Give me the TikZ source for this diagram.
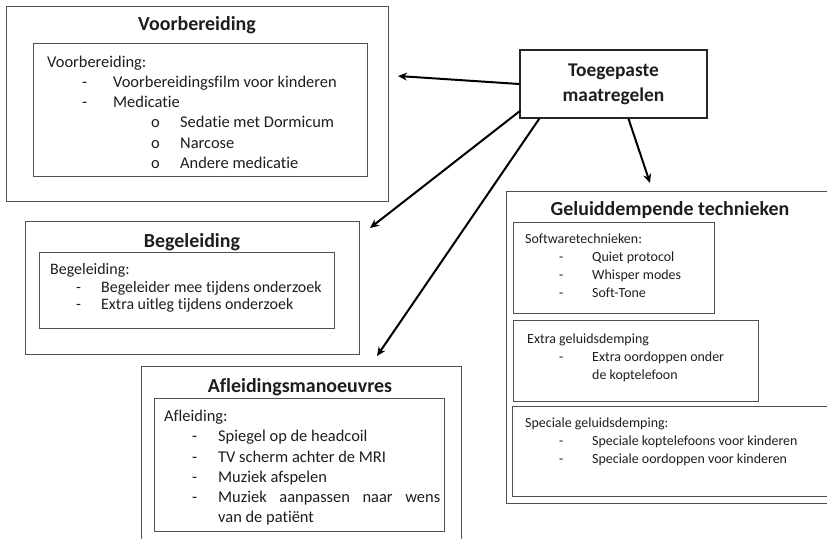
\documentclass[tikz,border=0pt]{standalone}
\usepackage{fontspec}
\setmainfont{Carlito}[Ligatures=NoCommon]
\usetikzlibrary{arrows.meta,positioning,calc}

\definecolor{boxgray}{HTML}{505050}
\definecolor{inkgray}{HTML}{1E1E1E}
\newcommand{\litem}[3]{\hspace*{#1}\makebox[#2][l]{-}#3}
\newcommand{\oitem}[3]{\hspace*{#1}\makebox[#2][l]{o}#3}

\begin{document}
\begin{tikzpicture}[
  x=1bp, y=-1bp,
  outerbox/.style={draw=boxgray, line width=1.4bp, fill=white, inner sep=0pt, anchor=north west},
  innerbox/.style={draw=boxgray, line width=1.2bp, fill=white, inner sep=0pt, anchor=north west},
  boxtitle/.style={font=\fontsize{20}{24}\selectfont\bfseries, text=inkgray, inner sep=0pt},
  boxtext/.style={font=\fontsize{16.5}{20.3}\selectfont, text=inkgray, align=left, inner sep=0pt, anchor=north west},
  smalltext/.style={font=\fontsize{14}{17.8}\selectfont, text=inkgray, align=left, inner sep=0pt, anchor=north west},
  arr/.style={line width=2bp, -{Stealth[length=9bp,width=8bp]}}
]
\useasboundingbox (0,0) rectangle (827,539);
\clip (0,0) rectangle (827,539);

% Voorbereiding
\node[outerbox, minimum width=382bp, minimum height=195bp] (vbOuter) at (6,6) {};
\node[boxtitle] (vbTitle) at (197,25) {Voorbereiding};
\node[innerbox, minimum width=334bp, minimum height=133bp] (vbInner) at (33,43) {};
\node[boxtext, below right=12.5bp and 14bp of vbInner.north west] (vbText) {Voorbereiding:\\
  \litem{35bp}{31bp}{Voorbereidingsfilm voor kinderen}\\
  \litem{35bp}{31bp}{Medicatie}\\
  \oitem{104bp}{29bp}{Sedatie met Dormicum}\\
  \oitem{104bp}{29bp}{Narcose}\\
  \oitem{104bp}{29bp}{Andere medicatie}};

% Begeleiding
\node[outerbox, minimum width=334bp, minimum height=133bp] (bgOuter) at (25,221) {};
\node[boxtitle] (bgTitle) at (192,242) {Begeleiding};
\node[innerbox, minimum width=295bp, minimum height=76bp] (bgInner) at (39,252) {};
\node[boxtext, font=\fontsize{16}{17.6}\selectfont, below right=11.5bp and 11bp of bgInner.north west] (bgText) {Begeleiding:\\
  \litem{26bp}{25bp}{Begeleider mee tijdens onderzoek}\\
  \litem{26bp}{25bp}{Extra uitleg tijdens onderzoek}};

% Afleidingsmanoeuvres
\node[outerbox, minimum width=320bp, minimum height=190bp] (afOuter) at (141,366) {};
\node[boxtitle] (afTitle) at (300,387) {Afleidingsmanoeuvres};
\node[innerbox, minimum width=290bp, minimum height=133bp] (afInner) at (154,398) {};
\node[boxtext, below right=12bp and 10bp of afInner.north west] (afText) {Afleiding:\\
  \litem{28bp}{26bp}{Spiegel op de headcoil}\\
  \litem{28bp}{26bp}{TV scherm achter de MRI}\\
  \litem{28bp}{26bp}{Muziek afspelen}\\
  \litem{28bp}{26bp}{\makebox[222bp][s]{Muziek aanpassen naar wens}}\\
  \hspace*{54bp}van de patiënt};

% Geluiddempende technieken
\node[outerbox, minimum width=330bp, minimum height=312bp] (gdOuter) at (506,191) {};
\node[boxtitle] (gdTitle) at (670,210) {Geluiddempende technieken};
\node[innerbox, minimum width=201bp, minimum height=91bp] (swInner) at (513,222) {};
\node[smalltext, below right=12bp and 12bp of swInner.north west] (swText) {Softwaretechnieken:\\
  \litem{34bp}{33bp}{Quiet protocol}\\
  \litem{34bp}{33bp}{Whisper modes}\\
  \litem{34bp}{33bp}{Soft-Tone}};
\node[innerbox, minimum width=245bp, minimum height=81bp] (exInner) at (513,320) {};
\node[smalltext, below right=14bp and 14bp of exInner.north west] (exText) {Extra geluidsdemping\\
  \litem{32bp}{33bp}{Extra oordoppen onder}\\
  \hspace*{65bp}de koptelefoon};
\node[innerbox, minimum width=330bp, minimum height=90bp] (spInner) at (512,406) {};
\node[smalltext, below right=12bp and 13bp of spInner.north west] (spText) {Speciale geluidsdemping:\\
  \litem{34bp}{33bp}{Speciale koptelefoons voor kinderen}\\
  \litem{34bp}{33bp}{Speciale oordoppen voor kinderen}};

% Toegepaste maatregelen
\node[draw=black!85, line width=1.5bp, fill=white, minimum width=187bp, minimum height=68bp,
  align=center, font=\fontsize{19.5}{25}\selectfont\bfseries, text=inkgray] (toeg) at (613.5,84) {Toegepaste\\maatregelen};

% arrows
\coordinate (vbTip) at (398,76);
\coordinate (bgTip) at (370,228);
\coordinate (afTip) at (377,356);
\coordinate (gdTip) at (650,183);
\draw[arr] (toeg.west) -- (vbTip);
\draw[arr] ($(toeg.south west)+(1,-8)$) -- (bgTip);
\draw[arr] ($(toeg.south west)+(20,0)$) -- (afTip);
\draw[arr] ($(toeg.south)+(15,0)$) -- (gdTip);
\end{tikzpicture}
\end{document}
